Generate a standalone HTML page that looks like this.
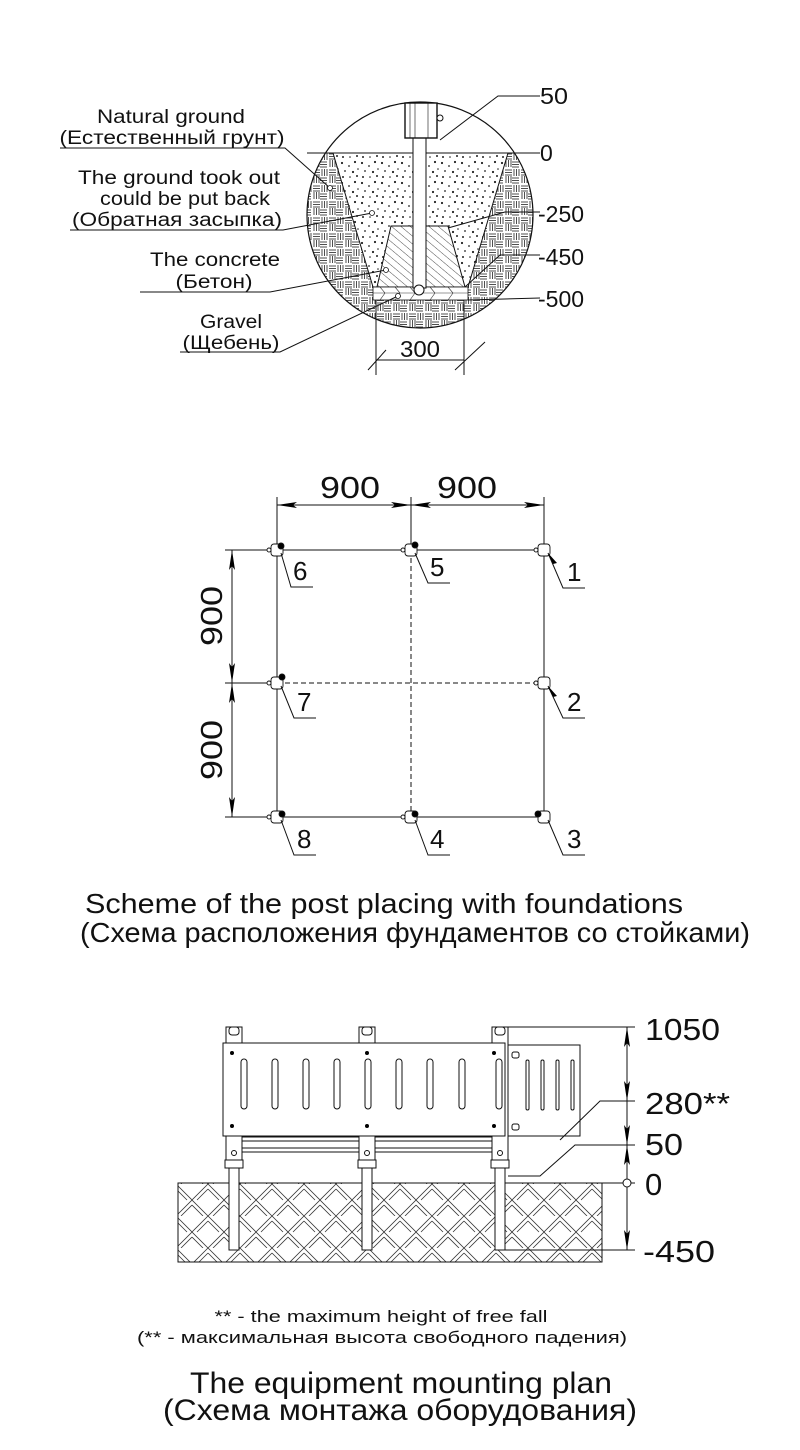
<!DOCTYPE html>
<html><head><meta charset="utf-8"><style>
html,body{margin:0;padding:0;background:#fff;}
svg{display:block;}
text{font-family:"Liberation Sans",Arial,sans-serif;fill:#111;}
</style></head><body>
<svg width="800" height="1450" viewBox="0 0 800 1450" xmlns="http://www.w3.org/2000/svg">
<defs>
<pattern id="weave" width="16" height="16" patternUnits="userSpaceOnUse">
<rect width="16" height="16" fill="#fff"/>
<g stroke="#222" stroke-width="0.8">
<line x1="0" y1="2" x2="7" y2="2"/><line x1="0" y1="4.5" x2="7" y2="4.5"/><line x1="0" y1="7" x2="7" y2="7"/>
<line x1="10" y1="0" x2="10" y2="7"/><line x1="12.5" y1="0" x2="12.5" y2="7"/><line x1="15" y1="0" x2="15" y2="7"/>
<line x1="2" y1="9" x2="2" y2="16"/><line x1="4.5" y1="9" x2="4.5" y2="16"/><line x1="7" y1="9" x2="7" y2="16"/>
<line x1="9" y1="10" x2="16" y2="10"/><line x1="9" y1="12.5" x2="16" y2="12.5"/><line x1="9" y1="15" x2="16" y2="15"/>
</g></pattern>
<pattern id="dots" width="20" height="20" patternUnits="userSpaceOnUse">
<rect width="20" height="20" fill="#fff"/>
<g fill="#222">
<circle cx="2" cy="3" r="1.1"/><circle cx="9" cy="6" r="0.9"/><circle cx="15" cy="2" r="1.1"/><circle cx="5" cy="11" r="0.9"/>
<circle cx="13" cy="12" r="1.1"/><circle cx="18" cy="9" r="0.8"/><circle cx="3" cy="17" r="1"/><circle cx="10" cy="17" r="0.8"/><circle cx="17" cy="16" r="1"/>
</g></pattern>
<pattern id="conc" width="6" height="6" patternUnits="userSpaceOnUse" patternTransform="rotate(-50)">
<rect width="6" height="6" fill="#fff"/><line x1="0" y1="0" x2="0" y2="6" stroke="#222" stroke-width="0.8"/></pattern>
<pattern id="herr" width="32" height="32" patternUnits="userSpaceOnUse">
<rect width="32" height="32" fill="#fff"/>
<g stroke="#333" stroke-width="0.8" fill="none">
<line x1="0" y1="16" x2="16" y2="0"/><line x1="5" y1="16" x2="16" y2="5"/><line x1="16" y1="32" x2="32" y2="16"/><line x1="21" y1="32" x2="32" y2="21"/>
<line x1="16" y1="0" x2="32" y2="16"/><line x1="16" y1="5" x2="27" y2="16"/><line x1="0" y1="16" x2="16" y2="32"/><line x1="0" y1="21" x2="11" y2="32"/>
</g></pattern>
<clipPath id="circ"><circle cx="420" cy="215" r="113"/></clipPath>
<marker id="ar" viewBox="0 0 20 6" refX="20" refY="3" markerWidth="20" markerHeight="6" orient="auto-start-reverse" markerUnits="userSpaceOnUse"><path d="M0,0 L20,3 L0,6 L4,3z" fill="#000"/></marker>
</defs>

<!-- ===== TOP DETAIL ===== -->
<g clip-path="url(#circ)">
<rect x="300" y="153" width="240" height="200" fill="url(#weave)"/>
<polygon points="333,153 508,153 468,287 373,287" fill="url(#dots)" stroke="#111" stroke-width="1"/>
<polygon points="391,226 448,226 465,287 377,287" fill="url(#conc)" stroke="#111" stroke-width="1"/>
<rect x="373" y="287" width="95" height="13" fill="#fff" stroke="#111" stroke-width="0.8"/>
<path d="M373,293 h95 M380,287 l5,6 l-5,7 M395,287 l5,6 l-5,7 M410,287 l5,6 l-5,7 M430,287 l5,6 l-5,7 M448,287 l5,6 l-5,7" stroke="#333" stroke-width="0.6" fill="none"/>
</g>
<circle cx="420" cy="215" r="113" fill="none" stroke="#111" stroke-width="1.2"/>
<line x1="307" y1="153" x2="540" y2="153" stroke="#111" stroke-width="1"/>
<rect x="413" y="138" width="13" height="150" fill="#fff" stroke="#111" stroke-width="1"/>
<circle cx="419" cy="290" r="5" fill="#fff" stroke="#111"/>
<rect x="405" y="103" width="32" height="35" fill="#fff" stroke="#111" stroke-width="1.4"/>
<path d="M410,103v35M415,103v35M428,103v35" stroke="#111" stroke-width="0.6"/>
<circle cx="440" cy="118" r="3" fill="#fff" stroke="#111"/>
<g stroke="#111" stroke-width="1" fill="none">
<polyline points="440,140 498,96 540,96"/>
<polyline points="448,228 505,212 540,212"/>
<polyline points="465,287 500,255 540,255"/>
<polyline points="468,300 540,298"/>
<line x1="376" y1="300" x2="376" y2="375"/><line x1="464" y1="300" x2="464" y2="375"/>
<line x1="376" y1="360" x2="464" y2="360"/>
<line x1="368" y1="370" x2="386" y2="350"/><line x1="455" y1="370" x2="485" y2="342"/>
<polyline points="60,148 285,148 330,188"/>
<polyline points="70,230 283,230 372,213"/>
<polyline points="140,292 270,292 386,270"/>
<polyline points="180,352 280,352 398,296"/>
</g>
<g fill="#fff" stroke="#111" stroke-width="0.8">
<circle cx="330" cy="188" r="2.5"/><circle cx="372" cy="213" r="2.5"/><circle cx="386" cy="270" r="2.5"/><circle cx="398" cy="296" r="2.5"/>
</g>
<g font-size="23">
<text x="540" y="104" textLength="28" lengthAdjust="spacingAndGlyphs">50</text><text x="540" y="161">0</text><text x="538" y="222">-250</text><text x="538" y="265">-450</text><text x="538" y="307">-500</text>
<text x="400" y="357" textLength="40" lengthAdjust="spacingAndGlyphs">300</text>
</g>
<g font-size="19" text-anchor="middle" lengthAdjust="spacingAndGlyphs">
<text x="171" y="123" textLength="148" lengthAdjust="spacingAndGlyphs">Natural ground</text>
<text x="172" y="144" textLength="225" lengthAdjust="spacingAndGlyphs">(Естественный грунт)</text>
<text x="179" y="184" textLength="202" lengthAdjust="spacingAndGlyphs">The ground took out</text>
<text x="185" y="205" textLength="170" lengthAdjust="spacingAndGlyphs">could be put back</text>
<text x="177" y="226" textLength="210" lengthAdjust="spacingAndGlyphs">(Обратная засыпка)</text>
<text x="215" y="266" textLength="130" lengthAdjust="spacingAndGlyphs">The concrete</text>
<text x="214" y="288" textLength="77" lengthAdjust="spacingAndGlyphs">(Бетон)</text>
<text x="231" y="328" textLength="62" lengthAdjust="spacingAndGlyphs">Gravel</text>
<text x="231" y="349" textLength="97" lengthAdjust="spacingAndGlyphs">(Щебень)</text>
</g>

<!-- ===== GRID ===== -->
<g stroke="#111" stroke-width="1" fill="none">
<line x1="277" y1="550" x2="544" y2="550"/><line x1="277" y1="817" x2="544" y2="817"/>
<line x1="277" y1="550" x2="277" y2="817"/><line x1="544" y1="550" x2="544" y2="817"/>
<line x1="277" y1="683" x2="544" y2="683" stroke-dasharray="5,3"/>
<line x1="411" y1="550" x2="411" y2="817" stroke-dasharray="5,3"/>
<line x1="277" y1="497" x2="277" y2="550"/><line x1="411" y1="497" x2="411" y2="550"/><line x1="544" y1="497" x2="544" y2="550"/>
<line x1="277" y1="505" x2="411" y2="505" marker-start="url(#ar)" marker-end="url(#ar)"/>
<line x1="411" y1="505" x2="544" y2="505" marker-start="url(#ar)" marker-end="url(#ar)"/>
<line x1="225" y1="550" x2="277" y2="550"/><line x1="225" y1="683" x2="277" y2="683"/><line x1="225" y1="817" x2="277" y2="817"/>
<line x1="232" y1="550" x2="232" y2="683" marker-start="url(#ar)" marker-end="url(#ar)"/>
<line x1="232" y1="683" x2="232" y2="817" marker-start="url(#ar)" marker-end="url(#ar)"/>
</g>
<g font-size="31">
<text x="320" y="498" textLength="60" lengthAdjust="spacingAndGlyphs">900</text><text x="437" y="498" textLength="60" lengthAdjust="spacingAndGlyphs">900</text>
<text transform="translate(222,616) rotate(-90)" text-anchor="middle" textLength="60" lengthAdjust="spacingAndGlyphs">900</text>
<text transform="translate(222,750) rotate(-90)" text-anchor="middle" textLength="60" lengthAdjust="spacingAndGlyphs">900</text>
</g>
<g stroke="#111" stroke-width="0.9" fill="#fff">
<g transform="translate(277,550)"><rect x="-6" y="-6" width="12" height="12" rx="3"/><circle cx="-8" cy="0" r="2"/><circle cx="4" cy="-4" r="3" fill="#000"/></g>
<g transform="translate(411,550)"><rect x="-6" y="-6" width="12" height="12" rx="3"/><circle cx="-8" cy="0" r="2"/><circle cx="4" cy="-5" r="3" fill="#000"/></g>
<g transform="translate(544,550)"><rect x="-6" y="-6" width="12" height="12" rx="3"/><circle cx="-8" cy="0" r="2"/></g>
<g transform="translate(277,683)"><rect x="-6" y="-6" width="12" height="12" rx="3"/><circle cx="-8" cy="0" r="2"/><circle cx="5" cy="-6" r="3" fill="#000"/></g>
<g transform="translate(544,683)"><rect x="-6" y="-6" width="12" height="12" rx="3"/><circle cx="-8" cy="0" r="2"/></g>
<g transform="translate(277,817)"><rect x="-6" y="-6" width="12" height="12" rx="3"/><circle cx="-8" cy="0" r="2"/><circle cx="5" cy="-3" r="3" fill="#000"/></g>
<g transform="translate(411,817)"><rect x="-6" y="-6" width="12" height="12" rx="3"/><circle cx="-8" cy="0" r="2"/><circle cx="4" cy="-3" r="3" fill="#000"/></g>
<g transform="translate(544,817)"><rect x="-6" y="-6" width="12" height="12" rx="3"/><circle cx="-6" cy="-3" r="3" fill="#000"/></g>
</g>
<g stroke="#111" stroke-width="1" fill="none">
<polyline points="281,553 291,587 313,587"/>
<polyline points="415,553 428,583 450,583"/>
<polyline points="548,553 563,588 585,588"/>
<polyline points="281,686 294,718 316,718"/>
<polyline points="548,686 563,718 585,718"/>
<polyline points="281,820 294,855 316,855"/>
<polyline points="415,820 428,855 450,855"/>
<polyline points="548,820 563,855 585,855"/>
</g>
<path d="M548,553 l9,10 l-4,1z M548,686 l9,10 l-4,1z" fill="#000"/>
<g font-size="26">
<text x="293" y="580">6</text><text x="430" y="576">5</text><text x="567" y="581">1</text>
<text x="297" y="711">7</text><text x="567" y="711">2</text>
<text x="297" y="848">8</text><text x="430" y="848">4</text><text x="567" y="848">3</text>
</g>
<g font-size="28" text-anchor="middle">
<text x="384" y="913" textLength="598" lengthAdjust="spacingAndGlyphs">Scheme of the post placing with foundations</text>
<text x="415" y="942" textLength="670" lengthAdjust="spacingAndGlyphs">(Схема расположения фундаментов со стойками)</text>
</g>

<!-- ===== EQUIPMENT ===== -->
<rect x="178" y="1183" width="424" height="79" fill="url(#herr)" stroke="#111" stroke-width="1"/>
<g stroke="#111" stroke-width="1" fill="#fff">
<rect x="508" y="1045" width="72" height="91"/>
<rect x="235" y="1137" width="270" height="4"/><rect x="235" y="1148" width="270" height="4"/>
<rect x="226" y="1027" width="16" height="140"/><rect x="359" y="1027" width="16" height="140"/><rect x="492" y="1027" width="16" height="140"/>
<rect x="223" y="1043" width="282" height="93"/>
<rect x="229" y="1167" width="10" height="83"/><rect x="362" y="1167" width="10" height="83"/><rect x="495" y="1167" width="10" height="83"/>
<rect x="225" y="1160" width="18" height="8"/><rect x="358" y="1160" width="18" height="8"/><rect x="491" y="1160" width="18" height="8"/>
<rect x="229" y="1027" width="10" height="8" rx="3"/><rect x="362" y="1027" width="10" height="8" rx="3"/><rect x="495" y="1027" width="10" height="8" rx="3"/>
<circle cx="234" cy="1153" r="2.5"/><circle cx="367" cy="1153" r="2.5"/><circle cx="500" cy="1153" r="2.5"/>
</g>
<g fill="#fff" stroke="#111" stroke-width="1">
<rect x="241" y="1059" width="6" height="50" rx="3"/><rect x="272" y="1059" width="6" height="50" rx="3"/><rect x="303" y="1059" width="6" height="50" rx="3"/><rect x="334" y="1059" width="6" height="50" rx="3"/>
<rect x="365" y="1059" width="6" height="50" rx="3"/><rect x="396" y="1059" width="6" height="50" rx="3"/><rect x="427" y="1059" width="6" height="50" rx="3"/><rect x="459" y="1059" width="6" height="50" rx="3"/>
<rect x="496" y="1059" width="6" height="50" rx="3"/>
<rect x="526" y="1060" width="3" height="50" rx="1.5"/><rect x="541" y="1060" width="3" height="50" rx="1.5"/><rect x="556" y="1060" width="3" height="50" rx="1.5"/><rect x="571" y="1060" width="3" height="50" rx="1.5"/>
<rect x="512" y="1052" width="7" height="6" rx="2"/><rect x="512" y="1124" width="7" height="6" rx="2"/>
</g>
<g fill="#000"><circle cx="232" cy="1053" r="2"/><circle cx="367" cy="1053" r="2"/><circle cx="494" cy="1053" r="2"/><circle cx="232" cy="1126" r="2"/><circle cx="367" cy="1126" r="2"/><circle cx="494" cy="1126" r="2"/></g>
<g stroke="#111" stroke-width="1" fill="none">
<line x1="508" y1="1027" x2="635" y2="1027"/>
<polyline points="560,1140 600,1101 635,1101"/>
<polyline points="508,1176 540,1176 575,1145 635,1145"/>
<line x1="602" y1="1183" x2="635" y2="1183"/>
<line x1="505" y1="1250" x2="635" y2="1250"/>
<line x1="627" y1="1027" x2="627" y2="1101" marker-start="url(#ar)" marker-end="url(#ar)"/>
<line x1="627" y1="1101" x2="627" y2="1145" marker-end="url(#ar)"/>
<line x1="627" y1="1145" x2="627" y2="1183" marker-start="url(#ar)"/>
<line x1="627" y1="1183" x2="627" y2="1250" marker-end="url(#ar)"/>
<circle cx="627" cy="1183" r="4" fill="#fff"/>
</g>
<g font-size="31">
<text x="645" y="1040" textLength="75" lengthAdjust="spacingAndGlyphs">1050</text><text x="645" y="1114" textLength="85" lengthAdjust="spacingAndGlyphs">280**</text><text x="645" y="1155" textLength="38" lengthAdjust="spacingAndGlyphs">50</text><text x="645" y="1195">0</text><text x="643" y="1262" textLength="72" lengthAdjust="spacingAndGlyphs">-450</text>
</g>
<g font-size="17" text-anchor="middle">
<text x="381" y="1322" textLength="333" lengthAdjust="spacingAndGlyphs">** - the maximum height of free fall</text>
<text x="382" y="1343" textLength="490" lengthAdjust="spacingAndGlyphs">(** - максимальная высота свободного падения)</text>
</g>
<g font-size="30" text-anchor="middle">
<text x="401" y="1393" textLength="422" lengthAdjust="spacingAndGlyphs">The equipment mounting plan</text>
<text x="400" y="1420" textLength="474" lengthAdjust="spacingAndGlyphs">(Схема монтажа оборудования)</text>
</g>
</svg>
</body></html>
